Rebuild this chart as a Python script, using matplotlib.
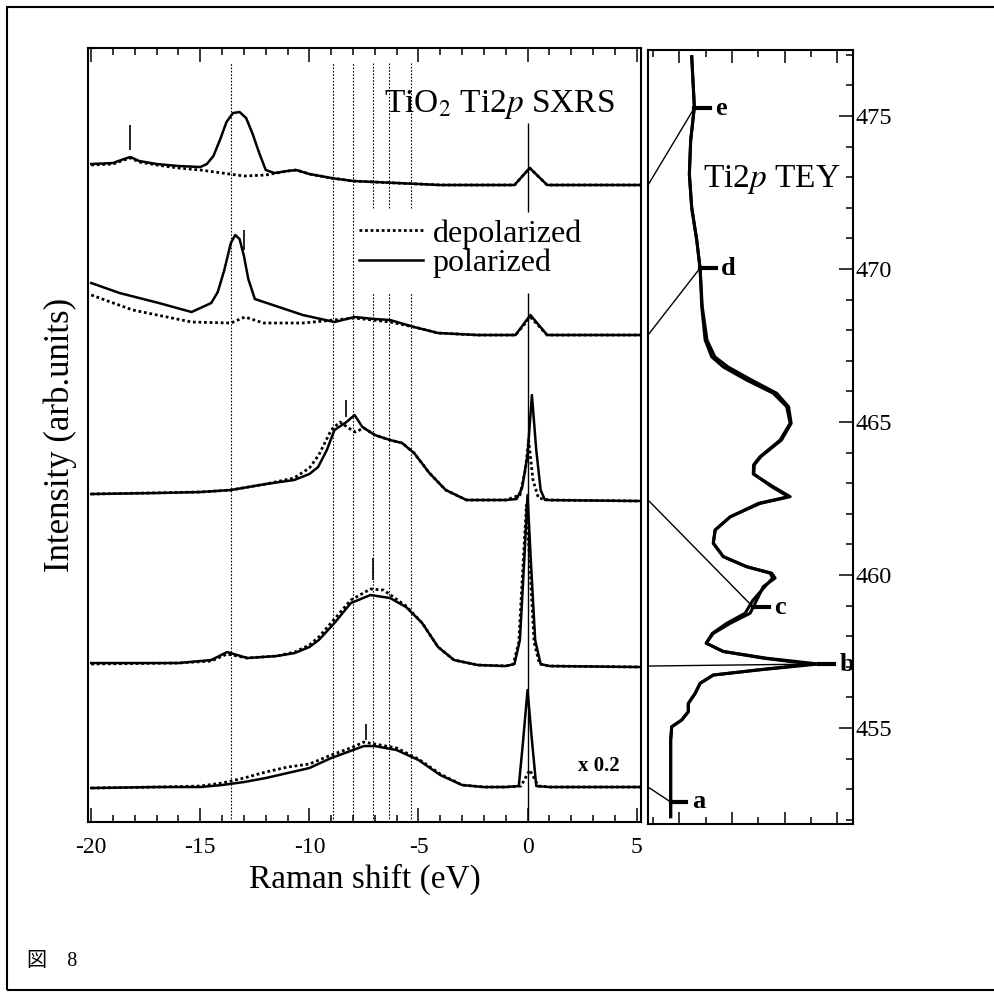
import numpy as np
import matplotlib
matplotlib.use("Agg")
import matplotlib.pyplot as plt
from matplotlib.patches import ConnectionPatch, Rectangle
from matplotlib.transforms import blended_transform_factory
from matplotlib.ticker import MultipleLocator

plt.rcParams['font.family'] = ['Liberation Serif', 'Noto Sans CJK JP']
plt.rcParams['mathtext.fontset'] = 'stix'
plt.rcParams['axes.unicode_minus'] = False

# ---- SXRS spectra (Raman shift in eV, intensity in arb. units, already offset) ----
# spectrum e
e_x_pol = [-20.0, -19.0, -18.5, -18.2, -17.8, -17.0, -16.0, -15.0, -14.7, -14.4, -14.1, -13.8,
           -13.5, -13.2, -12.9, -12.6, -12.3, -12.0, -11.6, -11.0, -10.6, -10.0, -9.0, -8.0,
           -7.0, -6.0, -5.0, -4.0, -2.0, -0.6, 0.1, 0.9, 2.0, 5.2]
e_pol = [65.8, 65.9, 66.3, 66.5, 66.1, 65.8, 65.6, 65.5, 65.8, 66.6, 68.2, 70.0,
         70.9, 71.0, 70.4, 68.8, 66.9, 65.2, 64.9, 65.1, 65.2, 64.8, 64.4, 64.1,
         64.0, 63.9, 63.8, 63.7, 63.7, 63.7, 65.4, 63.7, 63.7, 63.7]
e_x_dep = [-20.0, -19.0, -18.5, -18.2, -17.8, -17.0, -16.0, -15.0, -14.0, -13.0, -12.0, -11.0,
           -10.6, -10.0, -9.0, -8.0, -7.0, -6.0, -5.0, -4.0, -2.0, -0.6, 0.1, 0.9, 2.0, 5.2]
e_dep = [65.7, 65.8, 66.2, 66.4, 66.0, 65.7, 65.4, 65.2, 64.9, 64.6, 64.7, 65.1,
         65.2, 64.8, 64.4, 64.1, 64.0, 63.9, 63.8, 63.7, 63.7, 63.7, 65.4, 63.7, 63.7, 63.7]

# spectrum d
d_x_pol = [-20.0, -18.7, -16.9, -15.4, -14.5, -14.2, -13.9, -13.6, -13.4, -13.2, -13.0, -12.8,
           -12.5, -11.4, -10.3, -8.85, -7.93, -7.0, -6.3, -5.2, -4.1, -2.3, -0.55, 0.13,
           0.9, 2.0, 5.2]
d_pol = [53.9, 52.9, 51.9, 51.0, 51.9, 53.0, 55.2, 57.9, 58.7, 58.3, 56.6, 54.3,
         52.3, 51.5, 50.7, 50.0, 50.5, 50.3, 50.2, 49.5, 48.9, 48.7, 48.7, 50.7,
         48.7, 48.7, 48.7]
d_x_dep = [-20.0, -18.1, -15.4, -13.6, -12.95, -12.1, -10.3, -7.93, -6.3, -5.0, -4.1, -2.3,
           -0.55, 0.13, 0.9, 2.0, 5.2]
d_dep = [52.7, 51.2, 50.0, 49.9, 50.5, 49.9, 49.9, 50.4, 50.0, 49.4, 48.9, 48.7,
         48.7, 50.5, 48.7, 48.7, 48.7]

# spectrum c
c_x_pol = [-20.0, -17.0, -15.0, -13.6, -12.0, -10.7, -10.0, -9.6, -9.2, -8.85, -8.3, -7.93,
           -7.57, -7.0, -6.3, -5.75, -5.2, -4.5, -3.75, -2.8, -1.0, -0.5, -0.25, 0.0,
           0.2, 0.4, 0.6, 0.8, 5.2]
c_pol = [32.8, 32.9, 33.0, 33.2, 33.8, 34.2, 34.8, 35.5, 37.2, 39.2, 40.0, 40.7,
         39.5, 38.7, 38.2, 37.9, 36.9, 34.9, 33.2, 32.2, 32.2, 32.3, 33.4, 36.7,
         42.7, 37.2, 33.2, 32.2, 32.1]
c_x_dep = [-20.0, -15.0, -13.6, -12.0, -10.7, -10.0, -9.57, -9.0, -8.6, -8.2, -7.9, -7.5,
           -7.0, -6.3, -5.75, -5.2, -4.5, -3.75, -2.8, -1.0, -0.35, -0.1, 0.05, 0.25,
           0.5, 1.0, 5.2]
c_dep = [32.8, 33.0, 33.2, 33.8, 34.4, 35.4, 36.7, 39.2, 40.0, 39.4, 39.0, 39.4,
         38.7, 38.2, 37.9, 36.9, 34.9, 33.2, 32.2, 32.2, 32.7, 35.2, 38.2, 34.2,
         32.4, 32.2, 32.1]

# spectrum b
b_x_pol = [-20.0, -16.0, -14.5, -13.77, -12.85, -11.5, -10.67, -10.0, -9.57, -8.85, -8.1, -7.2,
           -6.3, -5.57, -4.83, -4.1, -3.37, -2.28, -1.0, -0.6, -0.35, -0.15, 0.0, 0.15,
           0.35, 0.6, 1.0, 5.2]
b_pol = [15.9, 15.9, 16.2, 17.0, 16.4, 16.6, 16.9, 17.5, 18.2, 19.9, 21.9, 22.7,
         22.4, 21.5, 19.9, 17.5, 16.2, 15.7, 15.6, 15.8, 18.2, 26.2, 32.7, 26.2,
         18.2, 15.8, 15.6, 15.5]
b_x_dep = [-20.0, -16.0, -14.5, -13.77, -12.85, -11.5, -10.67, -10.0, -9.57, -8.85, -8.1, -7.2,
           -6.6, -5.57, -4.83, -4.1, -3.37, -2.28, -1.0, -0.65, -0.4, -0.2, -0.05, 0.1,
           0.3, 0.55, 1.0, 5.2]
b_dep = [15.8, 15.9, 16.1, 16.8, 16.4, 16.6, 17.0, 17.7, 18.5, 20.3, 22.2, 23.3,
         23.2, 21.6, 19.9, 17.5, 16.2, 15.7, 15.6, 15.8, 18.0, 26.0, 31.7, 26.0,
         18.0, 15.8, 15.6, 15.5]

# spectrum a (x 0.2)
a_x_pol = [-20.0, -17.0, -15.0, -14.0, -13.0, -12.0, -11.0, -10.0, -9.0, -8.0, -7.5, -7.0,
           -6.0, -5.0, -4.0, -3.0, -2.0, -1.0, -0.4, -0.2, 0.0, 0.2, 0.4, 1.0, 5.2]
a_pol = [3.4, 3.5, 3.5, 3.7, 4.0, 4.4, 4.9, 5.4, 6.4, 7.2, 7.6, 7.6,
         7.2, 6.2, 4.7, 3.7, 3.5, 3.5, 3.6, 8.2, 13.2, 8.2, 3.6, 3.5, 3.5]
a_x_dep = [-20.0, -17.0, -15.0, -14.0, -13.0, -12.0, -11.0, -10.0, -9.0, -8.0, -7.5, -7.0,
           -6.0, -5.0, -4.0, -3.0, -2.0, -1.0, -0.3, 0.1, 0.5, 1.0, 5.2]
a_dep = [3.4, 3.5, 3.6, 3.9, 4.4, 5.0, 5.5, 5.8, 6.7, 7.5, 8.0, 7.8,
         7.4, 6.3, 4.8, 3.7, 3.5, 3.5, 3.6, 5.2, 3.6, 3.5, 3.5]

# baselines of the spectra e, d, c, b, a (left panel units)
baselines = [63.7, 48.7, 32.2, 15.6, 3.5]

# small vertical marks above the spectra
mark_x = [-18.2, -13.0, -8.3, -7.1, -7.4]
mark_lo = [67.2, 57.2, 40.5, 24.2, 8.2]
mark_hi = [69.7, 59.2, 42.2, 26.4, 9.8]

# vertical guide lines
guide_full = [-13.6, -8.9, -8.0]
guide_split = [-7.1, -6.35, -5.35]

# ---- Ti 2p TEY (photon energy in eV, intensity arb.) ----
tey_E = [476.94, 475.3, 474.2, 473.1, 472.0, 470.95, 470.0, 468.77, 467.68, 467.13, 466.8, 466.37,
         465.94, 465.5, 464.96, 464.41, 463.87, 463.6, 463.3, 462.89, 462.56, 462.34, 461.9, 461.47,
         461.04, 460.6, 460.27, 460.06, 459.9, 459.62, 459.18, 458.75, 458.42, 458.09, 457.77, 457.5,
         457.28, 457.09, 456.9, 456.73, 456.46, 456.13, 455.8, 455.53, 455.26, 455.04, 454.6, 452.1]
tey_pol = [1.47, 1.57, 1.43, 1.38, 1.47, 1.66, 1.79, 1.85, 1.98, 2.23, 2.67, 3.56,
           4.57, 5.08, 5.21, 4.83, 4.07, 3.82, 3.81, 4.56, 5.21, 4.07, 2.93, 2.36,
           2.29, 2.67, 3.56, 4.51, 4.64, 4.19, 3.94, 3.69, 2.93, 2.29, 2.02, 2.67,
           4.32, 6.29, 4.07, 2.29, 1.79, 1.60, 1.34, 1.34, 1.09, 0.71, 0.67, 0.67]
tey_dep = [1.47, 1.57, 1.43, 1.38, 1.47, 1.66, 1.79, 1.87, 2.05, 2.35, 2.85, 3.75,
           4.7, 5.15, 5.25, 4.88, 4.1, 3.85, 3.83, 4.5, 5.15, 4.0, 2.93, 2.36,
           2.29, 2.67, 3.56, 4.45, 4.55, 4.25, 3.8, 3.5, 2.8, 2.25, 2.02, 2.67,
           4.2, 6.0, 4.0, 2.29, 1.79, 1.60, 1.34, 1.34, 1.09, 0.71, 0.67, 0.67]

exc_labels = ['e', 'd', 'c', 'b', 'a']
exc_E = [475.26, 470.03, 458.95, 457.09, 452.58]

fig = plt.figure(figsize=(9.95, 9.94), dpi=100)
ax = fig.add_axes([0.0884, 0.1730, 0.5558, 0.7787])
ax2 = fig.add_axes([0.6513, 0.1710, 0.2060, 0.7787])

# outer frame of the scanned page
fig.add_artist(Rectangle((0.007, 0.004), 1.2, 0.989, transform=fig.transFigure,
                         fill=False, lw=1.5, color='black'))

# ---- left panel ----
for xg in guide_full:
    ax.axvline(xg, ymin=0, ymax=0.98, color='black', lw=0.8, ls=(0, (1.5, 1.5)))
for xg in guide_split:
    ax.vlines(xg, 0, 52.9, color='black', lw=0.8, ls=(0, (1.5, 1.5)))
    ax.vlines(xg, 61.4, 75.9, color='black', lw=0.8, ls=(0, (1.5, 1.5)))
ax.vlines(0, 0, 52.9, color='black', lw=1.0)
ax.vlines(0, 61.0, 69.9, color='black', lw=1.0)

spectra = [(e_x_pol, e_pol, e_x_dep, e_dep),
           (d_x_pol, d_pol, d_x_dep, d_dep),
           (c_x_pol, c_pol, c_x_dep, c_dep),
           (b_x_pol, b_pol, b_x_dep, b_dep),
           (a_x_pol, a_pol, a_x_dep, a_dep)]
handles = None
for xp, yp, xd, yd in spectra:
    ld, = ax.plot(xd, yd, color='black', lw=2.0, ls=(0, (1, 1)), label='depolarized')
    lp, = ax.plot(xp, yp, color='black', lw=1.8, label='polarized')
    if handles is None:
        handles = [ld, lp]

ax.vlines(mark_x, mark_lo, mark_hi, color='black', lw=1.2)

ax.set_xlim(-20.15, 5.2)
ax.set_ylim(0, 77.4)
ax.xaxis.set_major_locator(MultipleLocator(5))
ax.xaxis.set_minor_locator(MultipleLocator(1))
ax.tick_params(axis='x', which='both', direction='in', top=True, bottom=True,
               labelsize=17, pad=11, width=1.1)
ax.tick_params(axis='x', which='major', length=10)
ax.tick_params(axis='x', which='minor', length=5)
ax.set_yticks([])
for s in ax.spines.values():
    s.set_linewidth(1.5)
ax.set_xlabel('Raman shift (eV)', fontsize=24, labelpad=4)
ax.set_ylabel('Intensity (arb.units)', fontsize=25)
ax.yaxis.set_label_coords(-0.02, 0.5)

ax.text(-6.6, 71.0, r'TiO$_2$ Ti2$p$ SXRS', fontsize=24, ha='left', va='baseline')
ax.text(2.3, 5.6, 'x 0.2', fontsize=15, fontweight='bold', ha='left', va='center')
ax.legend(handles=handles, loc='upper left', bbox_to_anchor=(0.49, 0.779),
          frameon=False, fontsize=23, handlelength=2.0, handletextpad=0.3,
          labelspacing=0.0, borderpad=0, borderaxespad=0)

# ---- right panel ----
ax2.plot(tey_dep, tey_E, color='black', lw=2.2)
ax2.plot(tey_pol, tey_E, color='black', lw=2.2)
ax2.set_xlim(-0.19, 7.6)
ax2.set_ylim(451.86, 477.16)

blend = blended_transform_factory(ax2.transAxes, ax.transData)
for lab, E, base in zip(exc_labels, exc_E, baselines):
    u = np.interp(E, tey_E[::-1], tey_pol[::-1])
    con = ConnectionPatch(xyA=(0, base), coordsA=blend, xyB=(u, E), coordsB=ax2.transData,
                          color='black', lw=1.0)
    fig.add_artist(con)
    ax2.plot([u, u + 0.6], [E, E], color='black', lw=3)
    ax2.text(u + 0.8, E, lab, fontsize=19, fontweight='bold', ha='left', va='center')

ax2.text(1.9, 472.68, r'Ti2$p$ TEY', fontsize=24, ha='left', va='baseline')

ax2.yaxis.tick_right()
ax2.yaxis.set_major_locator(MultipleLocator(5))
ax2.yaxis.set_minor_locator(MultipleLocator(1))
ax2.tick_params(axis='y', which='both', direction='in', left=False, right=True,
                labelsize=17.5, pad=2, width=1.1)
ax2.tick_params(axis='y', which='major', length=10)
ax2.tick_params(axis='y', which='minor', length=5)
ax2.xaxis.set_major_locator(MultipleLocator(2, offset=1))
ax2.xaxis.set_minor_locator(MultipleLocator(1))
ax2.tick_params(axis='x', which='both', direction='in', top=True, bottom=True,
                labelbottom=False, width=1.1)
ax2.tick_params(axis='x', which='major', length=9)
ax2.tick_params(axis='x', which='minor', length=5)
for s in ax2.spines.values():
    s.set_linewidth(1.5)

fig.text(27 / 995, 1 - 962 / 994, '図\u30008', fontsize=14.5, ha='left', va='center')

fig.savefig('out.png', dpi=100)
